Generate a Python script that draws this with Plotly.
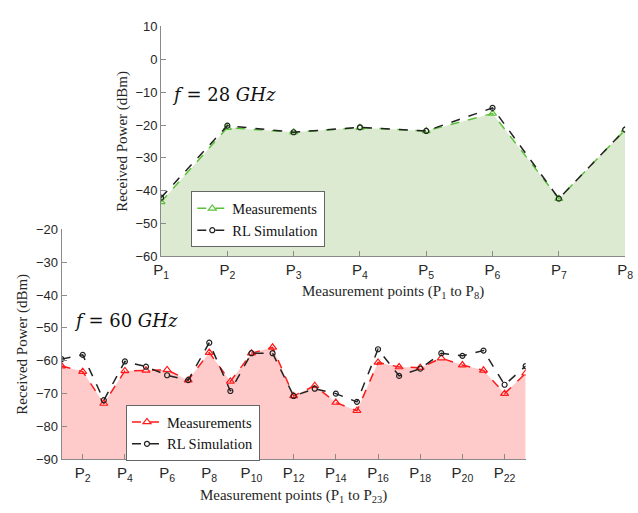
import plotly.graph_objects as go

# ---- data: 28 GHz campaign (P1..P8) ----
idx_28 = list(range(1, 9))
labels_28 = [f"P<sub>{i}</sub>" for i in idx_28]
meas_28 = [-43.4, -20.8, -22.2, -20.8, -21.8, -16.5, -42.4, -21.5]
sim_28 = [-42.1, -20.2, -22.2, -20.7, -21.8, -14.8, -42.4, -21.4]

# ---- data: 60 GHz campaign (P1..P23) ----
idx_60 = list(range(1, 24))
labels_60 = [f"P<sub>{i}</sub>" for i in idx_60]
meas_60 = [-61.6, -63.3, -73.0, -63.1, -62.9, -62.8, -65.9, -57.5, -66.3, -57.7,
           -55.9, -70.7, -67.6, -72.7, -75.2, -60.5, -61.9, -62.1, -59.2, -61.3,
           -62.9, -70.0, -63.8]
sim_60 = [-59.5, -58.2, -72.0, -60.2, -61.8, -64.4, -65.9, -54.5, -69.2, -57.7,
          -57.7, -70.7, -68.5, -70.0, -72.5, -56.5, -64.6, -62.4, -57.7, -58.5,
          -56.9, -67.3, -61.6]

Y_28 = (-60, 10)
Y_60 = (-90, -20)

SERIF = "Times New Roman, Liberation Serif, Times, serif"
SANS = "Arial, Liberation Sans, Helvetica, sans-serif"
MATH = "Cambria Math, DejaVu Serif, serif"
AXIS_GRAY = "#8a8a8a"
TXT = "#262626"

fig = go.Figure()


def add_panel(x, meas, sim, ymin, xa, ya, fill, meas_color, legend):
    # floor of the shaded region
    fig.add_trace(go.Scatter(x=x, y=[ymin] * len(x), mode="lines",
                             line=dict(width=0, color=fill), showlegend=False,
                             hoverinfo="skip", xaxis=xa, yaxis=ya))
    # shaded area under the measured curve
    fig.add_trace(go.Scatter(x=x, y=meas, mode="lines", fill="tonexty",
                             fillcolor=fill, line=dict(width=0, color=fill),
                             showlegend=False, hoverinfo="skip",
                             xaxis=xa, yaxis=ya))
    fig.add_trace(go.Scatter(x=x, y=meas, mode="lines+markers", name="Measurements",
                             line=dict(color=meas_color, width=1.5, dash="dash"),
                             marker=dict(symbol="triangle-up-open", size=7,
                                         color=meas_color, line=dict(width=1.2)),
                             xaxis=xa, yaxis=ya, legend=legend))
    fig.add_trace(go.Scatter(x=x, y=sim, mode="lines+markers", name="RL Simulation",
                             line=dict(color="#222222", width=1.5, dash="dash"),
                             marker=dict(symbol="circle-open", size=5,
                                         color="#222222", line=dict(width=1.2)),
                             xaxis=xa, yaxis=ya, legend=legend))


add_panel(idx_60, meas_60, sim_60, Y_60[0], "x2", "y2", "#ffcaca", "#ff1a1a", "legend2")
add_panel(idx_28, meas_28, sim_28, Y_28[0], "x", "y", "#dbead0", "#5cc13a", "legend")

axis_common = dict(showline=True, linecolor=AXIS_GRAY, linewidth=1, ticks="inside",
                   ticklen=5, tickcolor=AXIS_GRAY, showgrid=False, zeroline=False,
                   ticklabeloverflow="allow",
                   tickfont=dict(family=SANS, size=15, color=TXT))
ytick_font = dict(family=SANS, size=13, color=TXT)
title_font = dict(family=SERIF, size=15, color=TXT)
legend_style = dict(xanchor="left", yanchor="top", bgcolor="white",
                    bordercolor="#666666", borderwidth=1, traceorder="normal",
                    font=dict(family=SERIF, size=14.5, color="#111111"),
                    itemwidth=30, tracegroupgap=0)

fig.update_layout(
    width=638, height=513,
    margin=dict(l=0, r=0, t=0, b=0),
    paper_bgcolor="white", plot_bgcolor="rgba(0,0,0,0)",
    xaxis=dict(domain=[157 / 638, 633 / 638], anchor="y", range=[1, 8],
               tickvals=idx_28, ticktext=labels_28,
               title=dict(text="Measurement points (P<sub>1</sub> to P<sub>8</sub>)",
                          font=title_font, standoff=5),
               **axis_common),
    yaxis=dict(domain=[1 - 257 / 513, 1 - 20 / 513], anchor="x", range=list(Y_28),
               tickvals=list(range(-60, 11, 10)),
               title=dict(text="Received Power (dBm)", font=title_font, standoff=4),
               **{**axis_common, "tickfont": ytick_font}),
    xaxis2=dict(domain=[55 / 638, 531 / 638], anchor="y2", range=[1, 23],
                tickvals=idx_60[1::2], ticktext=labels_60[1::2],
                title=dict(text="Measurement points (P<sub>1</sub> to P<sub>23</sub>)",
                           font=title_font, standoff=6),
                **axis_common),
    yaxis2=dict(domain=[1 - 466 / 513, 1 - 229 / 513], anchor="x2", range=list(Y_60),
                tickvals=list(range(-90, -19, 10)),
                title=dict(text="Received Power (dBm)", font=title_font, standoff=4),
                **{**axis_common, "tickfont": ytick_font}),
    legend=dict(x=188 / 638, y=1 - 190 / 513, **legend_style),
    legend2=dict(x=121 / 638, y=1 - 410 / 513, **legend_style),
    showlegend=True,
)

# frequency labels
fig.add_annotation(xref="paper", yref="paper", x=166 / 638, y=1 - 90 / 513,
                   xanchor="left", yanchor="middle", showarrow=False,
                   text="<i>f</i> = 28 <i>GHz</i>",
                   font=dict(family=MATH, size=18, color="#111111"))
fig.add_annotation(xref="paper", yref="paper", x=66 / 638, y=1 - 323 / 513,
                   xanchor="left", yanchor="middle", showarrow=False,
                   text="<i>f</i> = 60 <i>GHz</i>",
                   font=dict(family=MATH, size=18, color="#111111"))

fig.write_html("out.html")
